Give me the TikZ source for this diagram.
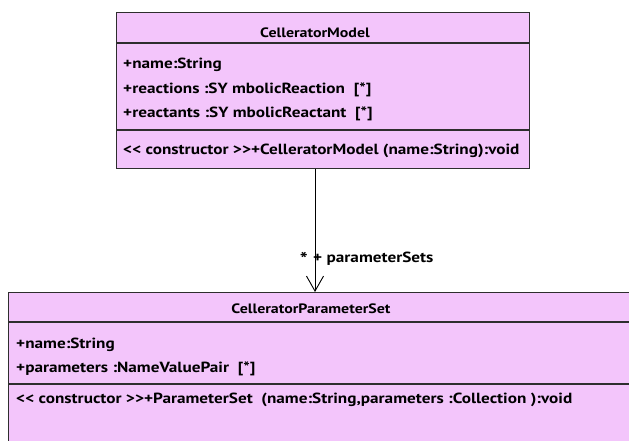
\documentclass[tikz,border=0pt]{standalone}
\usepackage{fontspec}
\setmainfont{PT Sans}[FakeStretch=1.17]
\usetikzlibrary{arrows.meta}
\definecolor{classfill}{HTML}{F3C5FB}
\definecolor{classline}{HTML}{2E2E2E}
\newcommand{\umlfont}{\fontsize{14.7}{18}\selectfont\bfseries}
\newcommand{\umltitlefont}{\fontsize{13.6}{16}\selectfont\bfseries}
\tikzset{
  classbox/.style={draw=classline, line width=1.4pt, fill=classfill, inner sep=0pt, anchor=north west},
  sepline/.style={draw=classline, line width=1.4pt},
  member/.style={anchor=base west, inner sep=0pt, font=\umlfont},
  title/.style={anchor=base, inner sep=0pt, font=\umltitlefont},
  assoc/.style={draw=black, line width=0.9pt, -{Straight Barb[length=15pt,width=17pt,line width=0.9pt]}},
}
\begin{document}
\begin{tikzpicture}[x=1pt,y=-1pt]
\useasboundingbox (0,0) rectangle (629,440);
\clip (0,0) rectangle (629,440);

% class CelleratorModel
\node[classbox, minimum width=413pt, minimum height=156pt] (cm) at (116,12) {};
\draw[sepline] (cm.west |- 0,43) -- (cm.east |- 0,43);
\draw[sepline] (cm.west |- 0,130) -- (cm.east |- 0,130);
\node[title] (cmname) at (315,37) {CelleratorModel};
\node[member] (cma1) at (123,68) {+name:String};
\node[member] (cma2) at (123,93) {+reactions :SY mbolicReaction\ \ [*]};
\node[member] (cma3) at (123,117) {+reactants :SY mbolicReactant\ \ [*]};
\node[member] (cmo1) at (123,154) {<{}< constructor >{}>+CelleratorModel (name:String):void};

% class CelleratorParameterSet (runs past the page edge)
\node[classbox, minimum width=640pt, minimum height=170pt] (ps) at (8,292) {};
\draw[sepline] (ps.west |- 0,322) -- (ps.east |- 0,322);
\draw[sepline] (ps.west |- 0,384) -- (ps.east |- 0,384);
\node[title] (psname) at (311,313) {CelleratorParameterSet};
\node[member] (psa1) at (16,348) {+name:String};
\node[member] (psa2) at (16,372) {+parameters :NameValuePair\ \ [*]};
\node[member] (pso1) at (16,403) {<{}< constructor >{}>+ParameterSet\ \ (name:String,parameters :Collection ):void};

% association
\coordinate (lane) at (315,0);
\draw[assoc] (cm.south -| lane) -- (ps.north -| lane);
\node[member, anchor=base east, font=\fontsize{18}{18}\selectfont\bfseries] (mult) at (308,265) {*};
\node[member] (role) at (313,262) {+ parameterSets};
\end{tikzpicture}
\end{document}
